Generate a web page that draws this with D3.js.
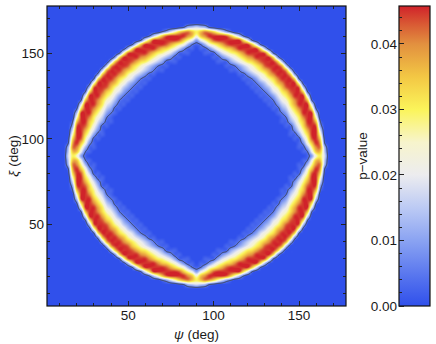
<!DOCTYPE html>
<html>
<head>
<meta charset="utf-8">
<style>
  body { margin: 0; background: #fff; font-family: "Liberation Sans", Arial, sans-serif; }
  svg text { fill: #1a1a1a; font-size: 13.5px; }
</style>
</head>
<body>
<script src="https://d3js.org/d3.v7.min.js"></script>
<svg id="chart" width="436" height="344"></svg>
<script>
  // Grid points (deg), 2.5 deg apart
  const psiValues = [2.5, 5, 7.5, 10, 12.5, 15, 17.5, 20, 22.5, 25, 27.5, 30, 32.5, 35, 37.5, 40, 42.5, 45,
    47.5, 50, 52.5, 55, 57.5, 60, 62.5, 65, 67.5, 70, 72.5, 75, 77.5, 80, 82.5, 85, 87.5, 90,
    92.5, 95, 97.5, 100, 102.5, 105, 107.5, 110, 112.5, 115, 117.5, 120, 122.5, 125, 127.5, 130, 132.5, 135,
    137.5, 140, 142.5, 145, 147.5, 150, 152.5, 155, 157.5, 160, 162.5, 165, 167.5, 170, 172.5, 175, 177.5];
  const xiValues = [2.5, 5, 7.5, 10, 12.5, 15, 17.5, 20, 22.5, 25, 27.5, 30, 32.5, 35, 37.5, 40, 42.5, 45,
    47.5, 50, 52.5, 55, 57.5, 60, 62.5, 65, 67.5, 70, 72.5, 75, 77.5, 80, 82.5, 85, 87.5, 90,
    92.5, 95, 97.5, 100, 102.5, 105, 107.5, 110, 112.5, 115, 117.5, 120, 122.5, 125, 127.5, 130, 132.5, 135,
    137.5, 140, 142.5, 145, 147.5, 150, 152.5, 155, 157.5, 160, 162.5, 165, 167.5, 170, 172.5, 175, 177.5];

  // p-value, one char per grid point (level * 0.0025);
  // spaces are only there to group the columns. First row is xi = 177.5, last is xi = 2.5
  const levelChars = "0123456789abcdefghi";
  const levelStep = 0.0025;
  const pRows = [
    "00000 00000 00000 00000 00000 00000 00000 0 00000 00000 00000 00000 00000 00000 00000",
    "00000 00000 00000 00000 00000 00000 00000 0 00000 00000 00000 00000 00000 00000 00000",
    "00000 00000 00000 00000 00000 00000 00000 0 00000 00000 00000 00000 00000 00000 00000",
    "00000 00000 00000 00000 00000 00000 00000 0 00000 00000 00000 00000 00000 00000 00000",
    "00000 00000 00000 00000 00000 00000 00000 0 00000 00000 00000 00000 00000 00000 00000",
    "00000 00000 00000 00000 00000 00000 01256 7 65210 00000 00000 00000 00000 00000 00000",
    "00000 00000 00000 00000 00000 00247 adfge c egfda 74200 00000 00000 00000 00000 00000",
    "00000 00000 00000 00000 00002 6aehi iiige a egiii ihea6 20000 00000 00000 00000 00000",
    "00000 00000 00000 00000 0028d iiiii iheb8 4 8behi iiiii d8200 00000 00000 00000 00000",
    "00000 00000 00000 00000 28eii iiihf db952 1 259bd fhiii iie82 00000 00000 00000 00000",
    "00000 00000 00000 00016 diiii igedb 96311 0 11369 bdegi iiiid 61000 00000 00000 00000",
    "00000 00000 00000 002ah iiiig ecb97 41110 0 01114 79bce giiii ha200 00000 00000 00000",
    "00000 00000 00000 04dii iigfd b9753 11000 0 00011 3579b dfgii iid40 00000 00000 00000",
    "00000 00000 00000 6eiii hfdca 86411 10000 0 00001 11468 acdfh iiie6 00000 00000 00000",
    "00000 00000 00006 fiiih eca86 42110 00000 0 00000 01124 68ace hiiif 60000 00000 00000",
    "00000 00000 0006f iiige ca864 21100 00000 0 00000 00112 468ac egiii f6000 00000 00000",
    "00000 00000 004ei iigeb 97531 10000 00000 0 00000 00001 13579 begii ie400 00000 00000",
    "00000 00000 02dii igdb9 74211 00000 00000 0 00000 00000 11247 9bdgi iid20 00000 00000",
    "00000 00000 1aiii geb96 42110 00000 00000 0 00000 00000 01124 69beg iiia1 00000 00000",
    "00000 00000 6hiih eb964 21100 00000 00000 0 00000 00000 00112 469be hiih6 00000 00000",
    "00000 00002 diihe c9742 11000 00000 00000 0 00000 00000 00011 2479c ehiid 20000 00000",
    "00000 00008 iiifc a7421 10000 00000 00000 0 00000 00000 00001 1247a cfiii 80000 00000",
    "00000 0002e iigda 85211 00000 00000 00000 0 00000 00000 00000 11258 adgii e2000 00000",
    "00000 0008i iifc8 63110 00000 00000 00000 0 00000 00000 00000 01136 8cfii i8000 00000",
    "00000 002di igda6 41100 00000 00000 00000 0 00000 00000 00000 00114 6adgi id200 00000",
    "00000 006ii ieb84 21000 00000 00000 00000 0 00000 00000 00000 00012 48bei ii600 00000",
    "00000 00aii gc962 10000 00000 00000 00000 0 00000 00000 00000 00001 269cg iia00 00000",
    "00000 02eii eb741 10000 00000 00000 00000 0 00000 00000 00000 00001 147be iie20 00000",
    "00000 04hih d9511 00000 00000 00000 00000 0 00000 00000 00000 00000 1159d hih40 00000",
    "00000 07iif b7310 00000 00000 00000 00000 0 00000 00000 00000 00000 0137b fii70 00000",
    "00000 0aiid 94110 00000 00000 00000 00000 0 00000 00000 00000 00000 01149 diia0 00000",
    "00000 1dihb 61100 00000 00000 00000 00000 0 00000 00000 00000 00000 00116 bhid1 00000",
    "00000 2fie9 31000 00000 00000 00000 00000 0 00000 00000 00000 00000 00013 9eif2 00000",
    "00000 5ggb5 11000 00000 00000 00000 00000 0 00000 00000 00000 00000 00011 5bgg5 00000",
    "00000 6ee82 10000 00000 00000 00000 00000 0 00000 00000 00000 00000 00001 28ee6 00000",
    "00000 7ca41 00000 00000 00000 00000 00000 0 00000 00000 00000 00000 00000 14ac7 00000",
    "00000 6ee82 10000 00000 00000 00000 00000 0 00000 00000 00000 00000 00001 28ee6 00000",
    "00000 5ggb5 11000 00000 00000 00000 00000 0 00000 00000 00000 00000 00011 5bgg5 00000",
    "00000 2fie9 31000 00000 00000 00000 00000 0 00000 00000 00000 00000 00013 9eif2 00000",
    "00000 1dihb 61100 00000 00000 00000 00000 0 00000 00000 00000 00000 00116 bhid1 00000",
    "00000 0aiid 94110 00000 00000 00000 00000 0 00000 00000 00000 00000 01149 diia0 00000",
    "00000 07iif b7310 00000 00000 00000 00000 0 00000 00000 00000 00000 0137b fii70 00000",
    "00000 04hih d9511 00000 00000 00000 00000 0 00000 00000 00000 00000 1159d hih40 00000",
    "00000 02eii eb741 10000 00000 00000 00000 0 00000 00000 00000 00001 147be iie20 00000",
    "00000 00aii gc962 10000 00000 00000 00000 0 00000 00000 00000 00001 269cg iia00 00000",
    "00000 006ii ieb84 21000 00000 00000 00000 0 00000 00000 00000 00012 48bei ii600 00000",
    "00000 002di igda6 41100 00000 00000 00000 0 00000 00000 00000 00114 6adgi id200 00000",
    "00000 0008i iifc8 63110 00000 00000 00000 0 00000 00000 00000 01136 8cfii i8000 00000",
    "00000 0002e iigda 85211 00000 00000 00000 0 00000 00000 00000 11258 adgii e2000 00000",
    "00000 00008 iiifc a7421 10000 00000 00000 0 00000 00000 00001 1247a cfiii 80000 00000",
    "00000 00002 diihe c9742 11000 00000 00000 0 00000 00000 00011 2479c ehiid 20000 00000",
    "00000 00000 6hiih eb964 21100 00000 00000 0 00000 00000 00112 469be hiih6 00000 00000",
    "00000 00000 1aiii geb96 42110 00000 00000 0 00000 00000 01124 69beg iiia1 00000 00000",
    "00000 00000 02dii igdb9 74211 00000 00000 0 00000 00000 11247 9bdgi iid20 00000 00000",
    "00000 00000 004ei iigeb 97531 10000 00000 0 00000 00001 13579 begii ie400 00000 00000",
    "00000 00000 0006f iiige ca864 21100 00000 0 00000 00112 468ac egiii f6000 00000 00000",
    "00000 00000 00006 fiiih eca86 42110 00000 0 00000 01124 68ace hiiif 60000 00000 00000",
    "00000 00000 00000 6eiii hfdca 86411 10000 0 00001 11468 acdfh iiie6 00000 00000 00000",
    "00000 00000 00000 04dii iigfd b9753 11000 0 00011 3579b dfgii iid40 00000 00000 00000",
    "00000 00000 00000 002ah iiiig ecb97 41110 0 01114 79bce giiii ha200 00000 00000 00000",
    "00000 00000 00000 00016 diiii igedb 96311 0 11369 bdegi iiiid 61000 00000 00000 00000",
    "00000 00000 00000 00000 28eii iiihf db952 1 259bd fhiii iie82 00000 00000 00000 00000",
    "00000 00000 00000 00000 0028d iiiii iheb8 4 8behi iiiii d8200 00000 00000 00000 00000",
    "00000 00000 00000 00000 00002 6aehi iiige a egiii ihea6 20000 00000 00000 00000 00000",
    "00000 00000 00000 00000 00000 00247 adfge c egfda 74200 00000 00000 00000 00000 00000",
    "00000 00000 00000 00000 00000 00000 01256 7 65210 00000 00000 00000 00000 00000 00000",
    "00000 00000 00000 00000 00000 00000 00000 0 00000 00000 00000 00000 00000 00000 00000",
    "00000 00000 00000 00000 00000 00000 00000 0 00000 00000 00000 00000 00000 00000 00000",
    "00000 00000 00000 00000 00000 00000 00000 0 00000 00000 00000 00000 00000 00000 00000",
    "00000 00000 00000 00000 00000 00000 00000 0 00000 00000 00000 00000 00000 00000 00000",
    "00000 00000 00000 00000 00000 00000 00000 0 00000 00000 00000 00000 00000 00000 00000"
  ];

  const axisTicks = [50, 100, 150];
  const colorTicks = [0, 0.01, 0.02, 0.03, 0.04];
  const pMax = 0.0458;

  // colour map (blue - white - yellow - red)
  const colorStops = [0, 0.004, 0.01, 0.015, 0.02, 0.025, 0.03, 0.035, 0.04, 0.043, 0.0458];
  const colorRange = ["#3050eb", "#5270ee", "#8aa3f2", "#bccaf4", "#ececef", "#f7f4cc",
                      "#fbf45a", "#f3c744", "#e2903f", "#d95a34", "#d0222a"];

  const plot = { left: 47, right: 346, top: 6, bottom: 306 };
  const cb = { left: 399, right: 430, top: 6, bottom: 306 };

  const svg = d3.select("#chart");

  const x = d3.scaleLinear().domain([2.5, 177.5]).range([plot.left, plot.right]);
  const y = d3.scaleLinear().domain([2.5, 177.5]).range([plot.bottom, plot.top]);
  const color = d3.scaleLinear().domain(colorStops).range(colorRange).clamp(true);

  // decode grid, grid[j][i] with j along xi ascending
  const grid = pRows.slice().reverse().map(r => {
    const s = r.replace(/ /g, "");
    if (s.length !== psiValues.length) throw new Error("bad row length " + s.length + ": " + r);
    return Array.from(s, c => levelChars.indexOf(c) * levelStep);
  });
  if (grid.length !== xiValues.length) throw new Error("bad row count " + grid.length);

  const ni = psiValues.length, nj = xiValues.length;
  const iScale = d3.scaleLinear().domain([psiValues[0], psiValues[ni - 1]]).range([0, ni - 1]).clamp(true);
  const jScale = d3.scaleLinear().domain([xiValues[0], xiValues[nj - 1]]).range([0, nj - 1]).clamp(true);

  function cr(p0, p1, p2, p3, t) {
    return 0.5 * (2 * p1 + (-p0 + p2) * t + (2 * p0 - 5 * p1 + 4 * p2 - p3) * t * t + (-p0 + 3 * p1 - 3 * p2 + p3) * t * t * t);
  }
  function cell(i, j) {
    i = Math.max(0, Math.min(ni - 1, i));
    j = Math.max(0, Math.min(nj - 1, j));
    return grid[j][i];
  }
  // bicubic interpolation of the grid, like a density plot
  function sample(psi, xi) {
    const fi = iScale(psi), fj = jScale(xi);
    const i0 = Math.floor(fi), j0 = Math.floor(fj);
    const ti = fi - i0, tj = fj - j0;
    const rows = [];
    for (let k = -1; k <= 2; k++) {
      rows.push(cr(cell(i0 - 1, j0 + k), cell(i0, j0 + k), cell(i0 + 1, j0 + k), cell(i0 + 2, j0 + k), ti));
    }
    return Math.max(0, cr(rows[0], rows[1], rows[2], rows[3], tj));
  }

  const pw = plot.right - plot.left, ph = plot.bottom - plot.top;
  const field = new Float64Array(pw * ph);
  for (let py = 0; py < ph; py++) {
    const xi = y.invert(plot.top + py + 0.5);
    for (let px = 0; px < pw; px++) {
      field[py * pw + px] = sample(x.invert(plot.left + px + 0.5), xi);
    }
  }

  // heat map drawn into a canvas, placed in the svg as an image
  const canvas = document.createElement("canvas");
  canvas.width = pw; canvas.height = ph;
  const ctx = canvas.getContext("2d");
  const img = ctx.createImageData(pw, ph);
  for (let k = 0; k < field.length; k++) {
    const c = d3.rgb(color(field[k]));
    img.data[4 * k] = c.r; img.data[4 * k + 1] = c.g; img.data[4 * k + 2] = c.b; img.data[4 * k + 3] = 255;
  }
  ctx.putImageData(img, 0, 0);

  svg.append("image")
    .attr("x", plot.left).attr("y", plot.top)
    .attr("width", pw).attr("height", ph)
    .attr("preserveAspectRatio", "none")
    .attr("href", canvas.toDataURL());

  // contour line at p = 0.005
  const contours = d3.contours().size([pw, ph]).thresholds([0.005])(field);
  svg.append("g")
    .attr("transform", `translate(${plot.left},${plot.top})`)
    .selectAll("path")
    .data(contours)
    .join("path")
    .attr("d", d3.geoPath())
    .attr("fill", "none")
    .attr("stroke", "#3a3f4a")
    .attr("stroke-width", 0.9);

  // frame with inner ticks on all sides
  const minorTicks = d3.range(10, 180, 10).filter(v => !axisTicks.includes(v));
  const tickG = svg.append("g").attr("stroke", "#222").attr("shape-rendering", "crispEdges");
  [[axisTicks, 5], [minorTicks, 3]].forEach(([vals, len]) => {
    vals.forEach(v => {
      tickG.append("line").attr("x1", x(v)).attr("x2", x(v)).attr("y1", plot.bottom).attr("y2", plot.bottom - len);
      tickG.append("line").attr("x1", x(v)).attr("x2", x(v)).attr("y1", plot.top).attr("y2", plot.top + len);
      tickG.append("line").attr("y1", y(v)).attr("y2", y(v)).attr("x1", plot.left).attr("x2", plot.left + len);
      tickG.append("line").attr("y1", y(v)).attr("y2", y(v)).attr("x1", plot.right).attr("x2", plot.right - len);
    });
  });
  svg.append("rect")
    .attr("x", plot.left).attr("y", plot.top).attr("width", pw).attr("height", ph)
    .attr("fill", "none").attr("stroke", "#111").attr("stroke-width", 1.2);

  svg.selectAll(".xtick").data(axisTicks).join("text")
    .attr("class", "xtick")
    .attr("x", d => x(d)).attr("y", plot.bottom + 14)
    .attr("text-anchor", "middle")
    .text(d => d);
  svg.selectAll(".ytick").data(axisTicks).join("text")
    .attr("class", "ytick")
    .attr("x", plot.left - 3).attr("y", d => y(d)).attr("dy", "0.36em")
    .attr("text-anchor", "end")
    .text(d => d);

  const xl = svg.append("text")
    .attr("x", (plot.left + plot.right) / 2).attr("y", 339)
    .attr("text-anchor", "middle");
  xl.append("tspan").attr("font-style", "italic").text("ψ");
  xl.append("tspan").text(" (deg)");

  const yl = svg.append("text")
    .attr("transform", `translate(18,${(plot.top + plot.bottom) / 2}) rotate(-90)`)
    .attr("text-anchor", "middle");
  yl.append("tspan").attr("font-style", "italic").text("ξ");
  yl.append("tspan").text(" (deg)");

  // colour bar
  const cbScale = d3.scaleLinear().domain([0, pMax]).range([cb.bottom, cb.top]);
  const grad = svg.append("defs").append("linearGradient")
    .attr("id", "cbgrad").attr("x1", 0).attr("y1", 1).attr("x2", 0).attr("y2", 0);
  grad.selectAll("stop").data(colorStops).join("stop")
    .attr("offset", d => d / pMax)
    .attr("stop-color", d => color(d));
  svg.append("rect")
    .attr("x", cb.left).attr("y", cb.top)
    .attr("width", cb.right - cb.left).attr("height", cb.bottom - cb.top)
    .attr("fill", "url(#cbgrad)")
    .attr("stroke", "#111").attr("stroke-width", 1.2);

  const cbTicks = svg.append("g").attr("stroke", "#222").attr("shape-rendering", "crispEdges");
  d3.range(0, pMax, 0.002).forEach(v => {
    const major = colorTicks.some(t => Math.abs(t - v) < 1e-9);
    cbTicks.append("line")
      .attr("x1", cb.left).attr("x2", cb.left + (major ? 5 : 3))
      .attr("y1", cbScale(v)).attr("y2", cbScale(v));
  });
  svg.selectAll(".ctick").data(colorTicks).join("text")
    .attr("class", "ctick")
    .attr("x", cb.left - 2).attr("y", d => cbScale(d)).attr("dy", "0.36em")
    .attr("text-anchor", "end")
    .text(d => d3.format(".2f")(d));

  svg.append("text")
    .attr("transform", `translate(367,${(cb.top + cb.bottom) / 2}) rotate(-90)`)
    .attr("text-anchor", "middle")
    .text("p\u2212value");
</script>
</body>
</html>
